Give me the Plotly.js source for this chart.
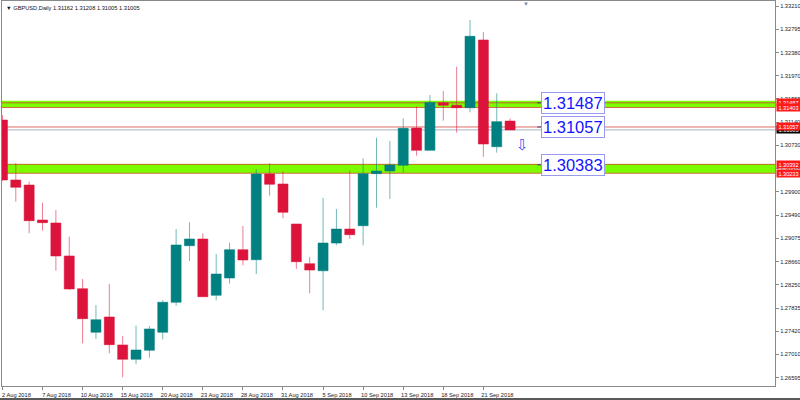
<!DOCTYPE html>
<html>
<head>
<meta charset="utf-8">
<script src="https://cdn.plot.ly/plotly-3.0.1.min.js"></script>
<style>
  html, body { margin: 0; padding: 0; background: #fff; }
  #wrap { width: 800px; height: 400px; overflow: hidden; position: relative; }
  #chart { width: 800px; height: 398px; }
  #bar { position: absolute; left: 0; top: 398px; width: 800px; height: 2px; background: #5a5a5a; }
</style>
</head>
<body>
<div id="wrap"><div id="chart"></div><div id="bar"></div></div>
<script>
// ---- data (GBPUSD, Daily) ----
const dates = ['2 Aug 2018','3 Aug 2018','6 Aug 2018','7 Aug 2018','8 Aug 2018','9 Aug 2018','10 Aug 2018',
  '13 Aug 2018','14 Aug 2018','15 Aug 2018','16 Aug 2018','17 Aug 2018','20 Aug 2018','21 Aug 2018',
  '22 Aug 2018','23 Aug 2018','24 Aug 2018','27 Aug 2018','28 Aug 2018','29 Aug 2018','30 Aug 2018',
  '31 Aug 2018','3 Sep 2018','4 Sep 2018','5 Sep 2018','6 Sep 2018','7 Sep 2018','10 Sep 2018',
  '11 Sep 2018','12 Sep 2018','13 Sep 2018','14 Sep 2018','17 Sep 2018','18 Sep 2018','19 Sep 2018',
  '20 Sep 2018','21 Sep 2018','24 Sep 2018','25 Sep 2018'];
const opens  = [1.31181,1.30113,1.30024,1.29401,1.29348,1.28761,1.28179,1.27403,1.27675,1.27177,1.26922,1.27083,1.27403,
  1.27937,1.28944,1.29063,1.28061,1.28369,1.28873,1.28695,1.30220,1.30042,1.29330,1.28624,1.28498,1.28991,1.29240,
  1.29300,1.30226,1.30274,1.30375,1.31039,1.30642,1.31489,1.31443,1.31400,1.32605,1.30706,1.31162];
const highs  = [1.31270,1.30416,1.30083,1.29709,1.29579,1.29104,1.28351,1.27889,1.28263,1.27337,1.27520,1.27515,1.27978,
  1.29241,1.29361,1.29165,1.28796,1.28997,1.29295,1.30306,1.30411,1.30268,1.29330,1.28745,1.29797,1.29597,1.30279,
  1.30499,1.30866,1.30807,1.31211,1.31425,1.31626,1.31697,1.32130,1.32961,1.32747,1.31656,1.31208];
const lows   = [1.30098,1.29727,1.29165,1.29211,1.28499,1.28156,1.27207,1.27284,1.27029,1.26602,1.26833,1.26951,1.27278,
  1.27876,1.28672,1.28031,1.27972,1.28268,1.28595,1.28440,1.29834,1.29432,1.28530,1.28096,1.27794,1.28951,1.29063,
  1.28951,1.29620,1.29775,1.30243,1.30546,1.30638,1.31169,1.30955,1.31318,1.30528,1.30599,1.31005];
const closes = [1.30113,1.29983,1.29389,1.29354,1.28761,1.28174,1.27645,1.27627,1.27182,1.26922,1.27088,1.27462,1.27937,
  1.28956,1.29063,1.28036,1.28440,1.28873,1.28690,1.30220,1.30037,1.29538,1.28659,1.28511,1.28991,1.29240,1.29140,
  1.30226,1.30274,1.30380,1.31033,1.30642,1.31493,1.31443,1.31400,1.32671,1.30754,1.31152,1.31005];

// tick labels
const xTickLabels = ['2 Aug 2018','7 Aug 2018','10 Aug 2018','15 Aug 2018','20 Aug 2018','23 Aug 2018',
  '28 Aug 2018','31 Aug 2018','5 Sep 2018','10 Sep 2018','13 Sep 2018','18 Sep 2018','21 Sep 2018'];
const yTickValues = [1.33210,1.32795,1.32380,1.31970,1.31555,1.31140,1.30730,1.30315,1.29900,
  1.29490,1.29075,1.28660,1.28250,1.27835,1.27420,1.27010,1.26595];

// drawn objects
const zoneBands = [[1.31403, 1.31525], [1.30233, 1.30398]];
const redLevels = [1.31487, 1.31403, 1.31057, 1.30392, 1.30233];
const bidLevel = 1.31005;
const boxLevels = [1.31487, 1.31057, 1.30383];
const arrowLevel = 1.30745;
const titleText = 'GBPUSD,Daily 1.31162 1.31208 1.31005 1.31005';

// ---- figure ----
const FONT = 'Liberation Sans, Arial, sans-serif';
const trace = {
  type: 'candlestick',
  x: dates, open: opens, high: highs, low: lows, close: closes,
  increasing: { line: { color: 'rgba(0,128,128,0.55)', width: 1 }, fillcolor: '#008080' },
  decreasing: { line: { color: 'rgba(220,20,60,0.55)', width: 1 }, fillcolor: '#dc143c' },
  whiskerwidth: 0,
  hoverinfo: 'skip'
};

const shapes = [];
zoneBands.forEach(b => shapes.push({
  type: 'rect', xref: 'paper', x0: 0, x1: 1, yref: 'y', y0: b[0], y1: b[1],
  fillcolor: '#7cfc00', line: { width: 0 }, layer: 'below'
}));
redLevels.forEach(v => shapes.push({
  type: 'line', xref: 'paper', x0: 0, x1: 1, yref: 'y', y0: v, y1: v,
  line: { color: 'rgba(215,60,50,0.75)', width: 1 }, layer: 'below'
}));
shapes.push({
  type: 'line', xref: 'paper', x0: 0, x1: 1, yref: 'y', y0: bidLevel, y1: bidLevel,
  line: { color: '#a7b2c2', width: 1 }, layer: 'below'
});
boxLevels.forEach(v => shapes.push({
  type: 'line', xref: 'paper', x0: 0.6925, x1: 0.6975, yref: 'y', y0: v, y1: v,
  line: { color: '#30407a', width: 1 }
}));

const annotations = [];
// bid label (mostly hidden)
annotations.push({
  xref: 'paper', x: 1, xanchor: 'left', xshift: 1, yref: 'y', y: bidLevel, yanchor: 'middle',
  text: bidLevel.toFixed(5), showarrow: false, bgcolor: '#000', borderpad: 0.5, width: 22,
  font: { family: FONT, size: 5.6, color: '#fff' }
});
redLevels.forEach(v => annotations.push({
  xref: 'paper', x: 1, xanchor: 'left', xshift: 1, yref: 'y', y: v, yanchor: 'middle',
  text: v.toFixed(5), showarrow: false, bgcolor: '#ff1a1a', borderpad: 0.5, width: 22,
  font: { family: FONT, size: 5.6, color: '#fff' }
}));
boxLevels.forEach(v => annotations.push({
  xref: 'paper', x: 0.6973, xanchor: 'left', yref: 'y', y: v, yanchor: 'middle',
  text: v.toFixed(5), showarrow: false, bgcolor: '#ffffff', bordercolor: '#9a9af0',
  borderwidth: 1, borderpad: 1,
  font: { family: FONT, size: 16.5, color: '#1414ff' }
}));
annotations.push({
  xref: 'paper', x: 0.6735, xanchor: 'center', yref: 'y', y: arrowLevel, yanchor: 'middle',
  text: '\u21E9', showarrow: false, font: { family: 'DejaVu Sans', size: 15, color: '#4a4af5' }
});
annotations.push({
  xref: 'paper', x: 0, xanchor: 'left', xshift: 2, yref: 'paper', y: 1, yanchor: 'top', yshift: -2,
  text: '\u25BC ' + titleText, showarrow: false, font: { family: FONT, size: 5.7, color: '#111' }
});
annotations.push({
  xref: 'paper', x: 0.678, xanchor: 'center', yref: 'paper', y: 1, yanchor: 'top', yshift: 2,
  text: '\u25BC', showarrow: false, font: { family: FONT, size: 6, color: '#7b8ea3' }
});

const layout = {
  width: 800, height: 398,
  margin: { l: 2, r: 25, t: 1, b: 12, pad: 0 },
  paper_bgcolor: '#ffffff', plot_bgcolor: '#ffffff',
  showlegend: false,
  boxgap: 0.25, boxgroupgap: 0,
  xaxis: {
    type: 'category', range: [-0.033, 57.83], rangeslider: { visible: false },
    tickmode: 'array', tickvals: xTickLabels, ticktext: xTickLabels,
    ticks: 'outside', ticklen: 3, tickcolor: '#888', tickwidth: 1,
    tickfont: { family: FONT, size: 5.7, color: '#222' },
    ticklabelshift: 14, ticklabelstandoff: 0,
    showgrid: false, zeroline: false, showline: true, linecolor: '#8a8a8a', linewidth: 1, mirror: true,
    fixedrange: true
  },
  yaxis: {
    side: 'right', range: [1.26447, 1.33299],
    tickmode: 'array', tickvals: yTickValues, ticktext: yTickValues.map(v => v.toFixed(5)),
    ticks: 'outside', ticklen: 3, tickcolor: '#888', tickwidth: 1,
    tickfont: { family: FONT, size: 5.7, color: '#222' },
    showgrid: false, zeroline: false, showline: true, linecolor: '#8a8a8a', linewidth: 1, mirror: true,
    fixedrange: true
  },
  shapes: shapes,
  annotations: annotations
};

Plotly.newPlot('chart', [trace], layout, { displayModeBar: false, staticPlot: true });
</script>
</body>
</html>
